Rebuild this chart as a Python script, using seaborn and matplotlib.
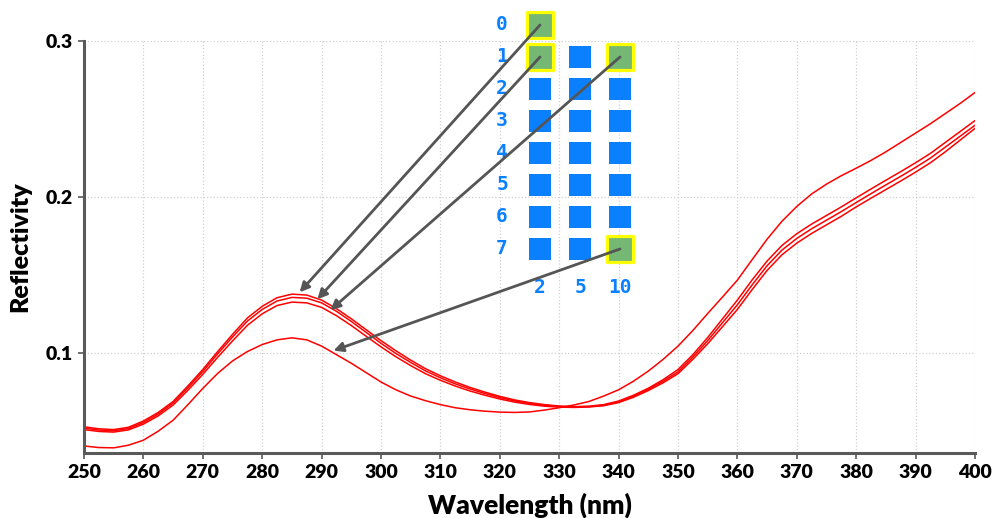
import numpy as np
import pandas as pd
import matplotlib
matplotlib.use("Agg")
import matplotlib.pyplot as plt
import seaborn as sns

# Spectra (every 2.5 nm)
wavelength = np.arange(250, 400.1, 2.5)
curve_a = [0.0405, 0.0395, 0.0393, 0.0410, 0.0442, 0.0500, 0.0570, 0.0670, 0.0774, 0.0870,
           0.0950, 0.1010, 0.1055, 0.1085, 0.1098, 0.1085, 0.1045, 0.0990, 0.0935, 0.0875,
           0.0815, 0.0765, 0.0725, 0.0695, 0.0670, 0.0650, 0.0637, 0.0628, 0.0622, 0.0620,
           0.0623, 0.0635, 0.0650, 0.0668, 0.0690, 0.0725, 0.0765, 0.0820, 0.0885, 0.0960,
           0.1045, 0.1145, 0.1254, 0.1360, 0.1468, 0.1600, 0.1730, 0.1845, 0.1940, 0.2020,
           0.2083, 0.2137, 0.2185, 0.2235, 0.2290, 0.2350, 0.2410, 0.2470, 0.2535, 0.2600,
           0.2670]
curve_b = [0.0528, 0.0515, 0.0510, 0.0525, 0.0565, 0.0620, 0.0690, 0.0790, 0.0895, 0.1010,
           0.1120, 0.1225, 0.1300, 0.1355, 0.1378, 0.1372, 0.1340, 0.1285, 0.1220, 0.1150,
           0.1080, 0.1015, 0.0955, 0.0900, 0.0855, 0.0815, 0.0780, 0.0750, 0.0723, 0.0700,
           0.0683, 0.0670, 0.0661, 0.0657, 0.0660, 0.0670, 0.0693, 0.0730, 0.0775, 0.0830,
           0.0895, 0.0990, 0.1100, 0.1220, 0.1340, 0.1470, 0.1590, 0.1690, 0.1765, 0.1827,
           0.1882, 0.1937, 0.1995, 0.2052, 0.2108, 0.2163, 0.2220, 0.2280, 0.2350, 0.2420,
           0.2490]
curve_c = [0.0520, 0.0507, 0.0502, 0.0517, 0.0555, 0.0610, 0.0680, 0.0778, 0.0882, 0.0995,
           0.1103, 0.1205, 0.1280, 0.1334, 0.1357, 0.1352, 0.1322, 0.1268, 0.1203, 0.1133,
           0.1063, 0.0998, 0.0940, 0.0886, 0.0842, 0.0803, 0.0770, 0.0741, 0.0715, 0.0694,
           0.0678, 0.0666, 0.0658, 0.0655, 0.0657, 0.0666, 0.0688, 0.0724, 0.0768, 0.0820,
           0.0880, 0.0975, 0.1080, 0.1195, 0.1310, 0.1438, 0.1560, 0.1660, 0.1735, 0.1797,
           0.1852, 0.1907, 0.1965, 0.2022, 0.2078, 0.2133, 0.2190, 0.2250, 0.2320, 0.2390,
           0.2460]
curve_d = [0.0510, 0.0498, 0.0494, 0.0508, 0.0545, 0.0598, 0.0667, 0.0762, 0.0864, 0.0973,
           0.1078, 0.1178, 0.1252, 0.1305, 0.1327, 0.1322, 0.1293, 0.1240, 0.1177, 0.1108,
           0.1040, 0.0977, 0.0920, 0.0868, 0.0826, 0.0789, 0.0757, 0.0730, 0.0706, 0.0686,
           0.0671, 0.0660, 0.0654, 0.0652, 0.0655, 0.0663, 0.0683, 0.0717, 0.0760, 0.0810,
           0.0868, 0.0960, 0.1060, 0.1170, 0.1280, 0.1408, 0.1530, 0.1630, 0.1705, 0.1767,
           0.1822, 0.1877, 0.1937, 0.1993, 0.2048, 0.2103, 0.2160, 0.2220, 0.2290, 0.2365,
           0.2440]

# Sample grid (rows 0-7, columns 2/5/10)
row_labels = ["0", "1", "2", "3", "4", "5", "6", "7"]
col_labels = ["2", "5", "10"]
cell_rows = [0] + [r for r in range(1, 8) for _ in range(3)]
cell_cols = [0] + [c for _ in range(1, 8) for c in range(3)]
# highlighted cells -> which curve they point to and where (nm)
hl_rows = [0, 1, 1, 7]
hl_cols = [0, 0, 2, 2]
hl_curve = ["B", "C", "D", "A"]
hl_nm = [286.3, 289.3, 291.5, 292.0]

df = pd.DataFrame({"Wavelength": wavelength, "A": curve_a, "B": curve_b,
                   "C": curve_c, "D": curve_d})
df_long = df.melt(id_vars="Wavelength", var_name="Sample", value_name="Reflectivity")

sns.set_theme(style="white")
plt.rcParams["font.family"] = ["Lato", "DejaVu Sans"]

fig = plt.figure(figsize=(9.93, 5.18), dpi=100)
ax = fig.add_axes([84 / 993, 1 - 453 / 518, (975 - 84) / 993, (453 - 41) / 518])

sns.lineplot(data=df_long, x="Wavelength", y="Reflectivity", hue="Sample",
             palette=["#ff0000"] * 4, linewidth=1.1, legend=False, ax=ax)

ax.set_xlim(250, 400)
ax.set_ylim(0.036, 0.3)
ax.set_xticks(np.arange(250, 401, 10))
ax.set_yticks([0.1, 0.2, 0.3])
ax.set_yticklabels(["0.1", "0.2", "0.3"])
ax.grid(True, color="#d0d0d0", linestyle=":", linewidth=0.9)
for s in ["top", "right"]:
    ax.spines[s].set_visible(False)
for s in ["left", "bottom"]:
    ax.spines[s].set_color("#595959")
    ax.spines[s].set_linewidth(2.2)
ax.tick_params(axis="both", which="both", direction="out", length=4, width=1.2,
               color="#595959", labelsize=14, pad=4, bottom=True, left=True,
               labelcolor="black")
for lab in ax.get_xticklabels() + ax.get_yticklabels():
    lab.set_fontweight("heavy")
ax.set_xlabel("Wavelength (nm)", fontsize=19, fontweight="heavy", labelpad=8,
              color="black")
ax.set_ylabel("Reflectivity", fontsize=18, fontweight="heavy", labelpad=10,
              color="black")

# Inset sample grid
ins = fig.add_axes([480 / 993, 1 - 297 / 518, 160 / 993, 288 / 518])
ins.set_xlim(0, 4)
ins.set_ylim(8.5, -0.5)
ins.set_facecolor("none")
ins.axis("off")
blue = "#0a80ff"
for i, lab in enumerate(row_labels):
    ins.text(0.55, i, lab, color=blue, fontsize=14, fontweight="bold",
             family="DejaVu Sans Mono", ha="center", va="center")
for j, lab in enumerate(col_labels):
    ins.text(1.5 + j, 8.2, lab, color=blue, fontsize=14, fontweight="bold",
             family="DejaVu Sans Mono", ha="center", va="center")

cells = pd.DataFrame({"x": [1.5 + c for c in cell_cols], "y": cell_rows})
sns.scatterplot(data=cells, x="x", y="y", marker="s", s=230, color=blue,
                linewidth=0, ax=ins, zorder=3)
hl = pd.DataFrame({"x": [1.5 + c for c in hl_cols], "y": hl_rows})
sns.scatterplot(data=hl, x="x", y="y", marker="s", s=330, color="#74b874",
                edgecolor="#ffff00", linewidth=2.3, ax=ins, zorder=4)
ins.set_xlabel("")
ins.set_ylabel("")

# arrows from highlighted cells to curves
for r, c, name, nm in zip(hl_rows, hl_cols, hl_curve, hl_nm):
    tip_y = np.interp(nm, wavelength, df[name]) + 0.0015
    ins.annotate("", xy=(nm, tip_y), xycoords=ax.transData,
                 xytext=(1.5 + c, r), textcoords="data", annotation_clip=False,
                 arrowprops=dict(arrowstyle="-|>", color="#555555", lw=2,
                                 mutation_scale=14, shrinkA=0, shrinkB=0),
                 zorder=5)

plt.savefig("out.png", dpi=100)
